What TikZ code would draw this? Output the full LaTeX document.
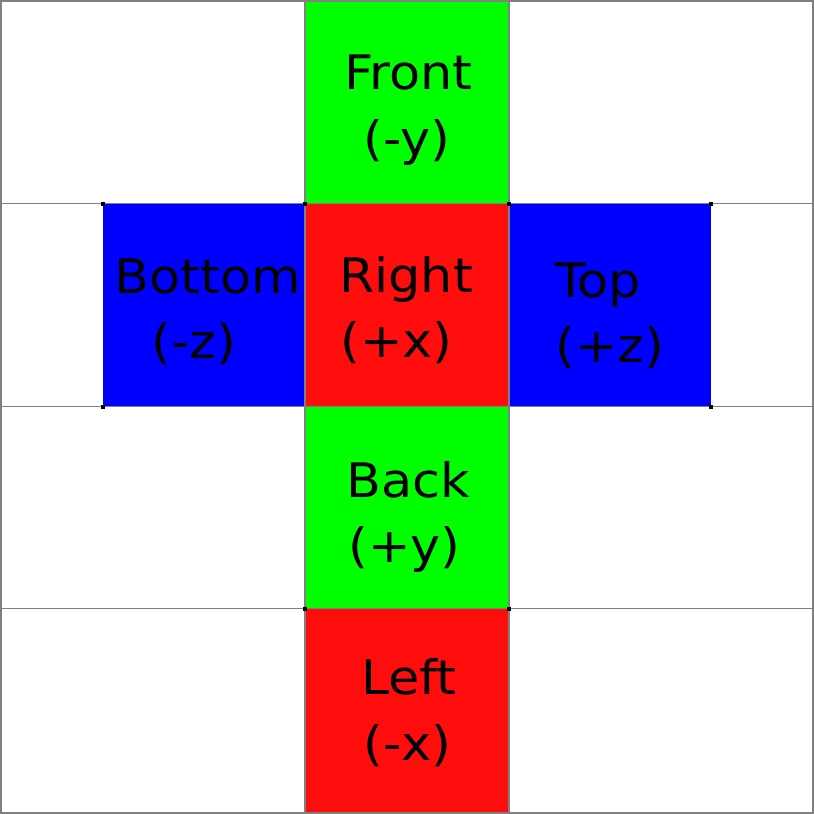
\documentclass[tikz,border=0pt]{standalone}
\usepackage{fontspec}
\setmainfont[FakeStretch=1.07]{DejaVu Sans}
\definecolor{fgreen}{RGB}{0,255,0}
\definecolor{fred}{RGB}{255,12,12}
\definecolor{fblue}{RGB}{0,0,255}
\definecolor{gridgray}{RGB}{128,128,128}
\begin{document}
\begin{tikzpicture}[x=1pt,y=-1pt,
  lbl/.style={anchor=base west,inner sep=0pt,font=\fontsize{47.5}{56}\selectfont},
  gridline/.style={draw=gridgray,line width=1.3pt},
  corner/.style={fill=black}]
\useasboundingbox (0,0) rectangle (814,814);
\fill[white] (0,0) rectangle (814,814);
% faces
\fill[fgreen] (306,1) rectangle (509,203);
\fill[fblue]  (103,204) rectangle (305,406);
\fill[fred]   (306,204) rectangle (509,406);
\fill[fblue]  (509,204) rectangle (711,406);
\fill[fgreen] (306,407) rectangle (509,608);
\fill[fred]   (306,609) rectangle (509,812);
% grid
\draw[gridline] (0,203.5) -- (814,203.5);
\draw[gridline] (0,406.5) -- (814,406.5);
\draw[gridline] (0,608.5) -- (814,608.5);
\draw[gridline] (305,0) -- (305,814);
\draw[gridline] (509,0) -- (509,814);
\draw[draw=gridgray,line width=2pt] (1,1) rectangle (812.5,812.5);
% corner dots
\foreach \p in {(103,203.5),(305,203.5),(509,203.5),(711,203.5),(103,406.5),(711,406.5),(305,608.5),(509,608.5)}
  \fill[corner] \p ++(-2,-2) rectangle ++(4,4);
% labels
\node[lbl] (front1) at (344,89) {Front};
\node[lbl] (front2) at (363,155) {(-y)};
\node[lbl] (bottom1) at (114,293) {Bottom};
\node[lbl] (bottom2) at (151,358) {(-z)};
\node[lbl] (right1) at (339,292) {Right};
\node[lbl] (right2) at (340,357) {(+x)};
\node[lbl] (top1) at (555,297) {Top};
\node[lbl] (top2) at (555,362) {(+z)};
\node[lbl] (back1) at (346,497) {Back};
\node[lbl] (back2) at (348,562) {(+y)};
\node[lbl] (left1) at (361,694) {Left};
\node[lbl] (left2) at (363,760) {(-x)};
\end{tikzpicture}
\end{document}
